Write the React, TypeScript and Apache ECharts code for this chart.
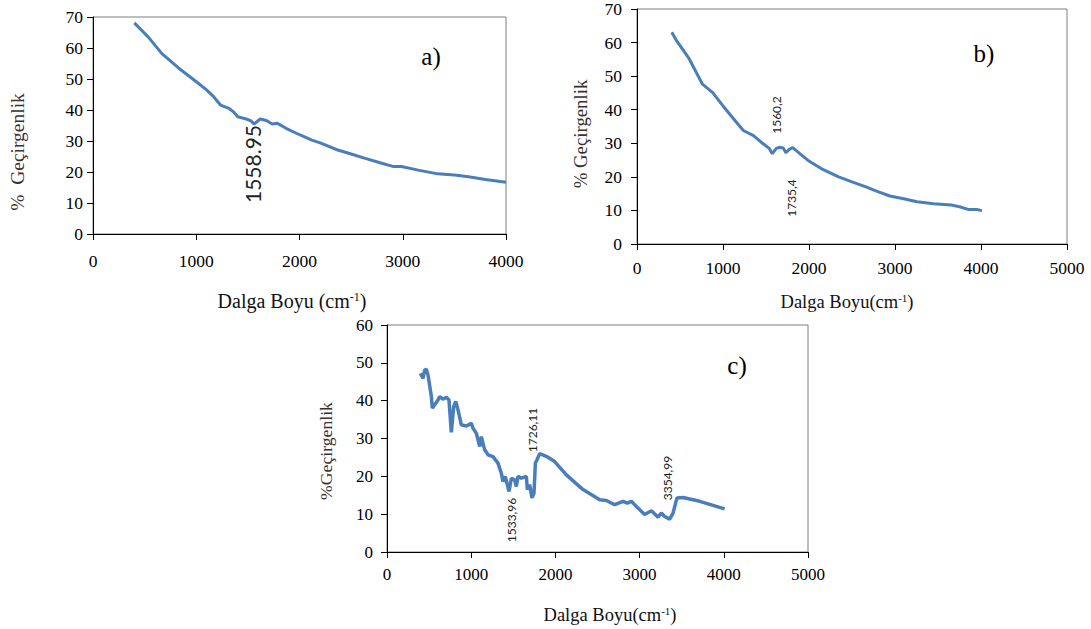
import React, { useEffect, useRef } from "react";
import * as echarts from "echarts";

// Panel a) spectrum
const xA = [400, 534, 667, 834, 1001, 1100, 1168, 1235, 1318, 1360, 1402, 1485, 1530, 1559, 1590, 1619, 1680, 1735, 1786, 1870, 1969, 2050, 2119, 2200, 2370, 2500, 2637, 2780, 2904, 2987, 3150, 3338, 3500, 3638, 3800, 4000];
const yA = [68.1, 63.6, 58.2, 53.4, 49.1, 46.5, 44.3, 41.6, 40.5, 39.4, 37.8, 37.1, 36.5, 35.5, 36.3, 37.1, 36.6, 35.5, 35.7, 34.1, 32.5, 31.3, 30.3, 29.4, 27.1, 25.8, 24.4, 23.0, 21.8, 21.8, 20.6, 19.4, 19.0, 18.5, 17.6, 16.7];

// Panel b) spectrum
const xB = [404, 464, 602, 761, 880, 998, 1120, 1236, 1355, 1460, 1540, 1573, 1620, 1652, 1700, 1731, 1770, 1811, 1900, 1989, 2147, 2345, 2500, 2662, 2800, 2940, 3100, 3257, 3450, 3653, 3750, 3851, 3950, 4010];
const yB = [63.1, 60.4, 55.4, 47.6, 45.1, 41.2, 37.4, 33.8, 32.3, 30.0, 28.4, 26.9, 28.5, 28.8, 28.6, 27.2, 28.2, 28.7, 26.8, 24.9, 22.4, 20.0, 18.5, 17.0, 15.6, 14.3, 13.5, 12.6, 12.0, 11.6, 11.1, 10.3, 10.3, 9.9];

// Panel c) spectrum
const xC = [396, 428, 447, 467, 487, 527, 538, 566, 606, 625, 665, 705, 736, 764, 792, 816, 843, 883, 942, 1002, 1021, 1061, 1101, 1120, 1160, 1200, 1259, 1318, 1358, 1378, 1405, 1449, 1477, 1516, 1536, 1556, 1595, 1655, 1667, 1694, 1722, 1746, 1762, 1782, 1813, 1892, 1991, 2130, 2328, 2526, 2605, 2704, 2803, 2854, 2902, 2981, 3060, 3140, 3219, 3258, 3298, 3357, 3397, 3444, 3516, 3714, 4010];
const yC = [47.2, 45.9, 48.1, 48.3, 46.8, 41.1, 38.0, 38.9, 40.2, 41.1, 40.4, 40.9, 40.2, 31.6, 38.4, 39.8, 37.6, 33.6, 33.3, 34.0, 32.7, 31.4, 27.9, 30.5, 27.0, 25.7, 25.2, 23.5, 20.8, 18.6, 20.0, 16.0, 19.5, 19.1, 17.3, 20.0, 19.5, 20.0, 16.5, 17.8, 14.3, 15.6, 23.5, 24.4, 26.0, 25.3, 23.9, 20.4, 16.5, 13.8, 13.6, 12.5, 13.4, 12.9, 13.4, 11.6, 9.9, 10.9, 9.2, 10.3, 9.4, 8.7, 10.3, 14.3, 14.4, 13.4, 11.4];

const panelLetters = ["a)", "b)", "c)"];
const peakLabelsA = ["1558.95"];
const peakLabelsB = ["1560,2", "1735,4"];
const peakLabelsC = ["1726,11", "1533,96", "3354,99"];
const yTitles = ["%  Geçirgenlik", "% Geçirgenlik", "%Geçirgenlik"];

const SERIF = "Liberation Serif";
const SANS = "Lato";
const LINE = "#4a7ebb";

function zip(xs: number[], ys: number[]) {
  return xs.map((x, i) => [x, ys[i]]);
}

function xAxis(gridIndex: number, max: number, margin: number, size: number) {
  return {
    gridIndex,
    type: "value",
    min: 0,
    max,
    interval: 1000,
    axisLine: { show: true, onZero: false, lineStyle: { color: "#000", width: 1 } },
    axisTick: { show: true, inside: false, length: 6, lineStyle: { color: "#000" } },
    axisLabel: { color: "#000", fontFamily: SERIF, fontSize: size, margin, formatter: (v: number) => String(v) },
    splitLine: { show: false },
  };
}

function yAxis(gridIndex: number, max: number, margin: number, size: number) {
  return {
    gridIndex,
    type: "value",
    min: 0,
    max,
    interval: 10,
    axisLine: { show: true, onZero: false, lineStyle: { color: "#000", width: 1 } },
    axisTick: { show: true, inside: false, length: 6, lineStyle: { color: "#000" } },
    axisLabel: { color: "#000", fontFamily: SERIF, fontSize: size, margin, formatter: (v: number) => String(v) },
    splitLine: { show: false },
  };
}

function xTitle(x: number, y: number, gap: string, size: number) {
  return {
    type: "text",
    x,
    y,
    style: {
      text: "{m|Dalga Boyu" + gap + "(cm}{sup|-1}{m|)}",
      rich: {
        m: { fontFamily: SERIF, fontSize: size, fill: "#111" },
        sup: { fontFamily: SERIF, fontSize: Math.round(size * 0.62), verticalAlign: "top", padding: [0, 0, 8, 0], fill: "#111" },
      },
      fill: "#111",
      fontFamily: SERIF,
      fontSize: size,
      align: "center",
      verticalAlign: "middle",
    },
  };
}

function vText(text: string, x: number, y: number, size: number, font: string, color = "#222") {
  return {
    type: "text",
    x,
    y,
    rotation: Math.PI / 2,
    style: { text, fill: color, fontFamily: font, fontSize: size, align: "center", verticalAlign: "middle" },
  };
}

function letter(text: string, x: number, y: number) {
  return {
    type: "text",
    x,
    y,
    style: { text, fill: "#000", fontFamily: SERIF, fontSize: 25, align: "center", verticalAlign: "middle" },
  };
}

export default function App() {
  const ref = useRef<HTMLDivElement>(null);
  useEffect(() => {
    if (!ref.current) return;
    const chart = echarts.init(ref.current, undefined, { renderer: "svg" });
    const gridBase = { show: true, borderColor: "#7f7f7f", borderWidth: 1, backgroundColor: "transparent", containLabel: false };
    chart.setOption({
      animation: false,
      backgroundColor: "#fff",
      textStyle: { fontFamily: SERIF },
      grid: [
        { ...gridBase, left: 93, top: 17, width: 413, height: 217 },
        { ...gridBase, left: 637, top: 7, width: 430, height: 237 },
        { ...gridBase, left: 387, top: 325, width: 421, height: 227 },
      ],
      xAxis: [xAxis(0, 4000, 18, 17.5), xAxis(1, 5000, 15, 17.5), xAxis(2, 5000, 14, 17)],
      yAxis: [yAxis(0, 70, 10, 17.5), yAxis(1, 70, 15, 17.5), yAxis(2, 60, 14, 17)],
      series: [
        { type: "line", xAxisIndex: 0, yAxisIndex: 0, data: zip(xA, yA), showSymbol: false, lineStyle: { color: LINE, width: 3 }, itemStyle: { color: LINE } },
        { type: "line", xAxisIndex: 1, yAxisIndex: 1, data: zip(xB, yB), showSymbol: false, lineStyle: { color: LINE, width: 3 }, itemStyle: { color: LINE } },
        { type: "line", xAxisIndex: 2, yAxisIndex: 2, data: zip(xC, yC), showSymbol: false, lineStyle: { color: LINE, width: 3.5 }, itemStyle: { color: LINE } },
      ],
      graphic: [
        xTitle(292, 301, " ", 20),
        xTitle(847, 302, "", 18.5),
        xTitle(610, 615, "", 18.5),
        vText(yTitles[0], 17, 152, 19.5, SERIF, "#3a3030"),
        vText(yTitles[1], 580, 134, 18.8, SERIF, "#3a3030"),
        vText(yTitles[2], 326, 451, 17.7, SERIF, "#3a3030"),
        letter(panelLetters[0], 431, 56),
        letter(panelLetters[1], 984, 53),
        letter(panelLetters[2], 737, 365),
        vText(peakLabelsA[0], 252, 164, 21, SANS),
        vText(peakLabelsB[0], 776, 115, 12, SANS),
        vText(peakLabelsB[1], 791, 198, 12, SANS),
        vText(peakLabelsC[0], 532, 430, 12, SANS),
        vText(peakLabelsC[1], 511, 520, 12, SANS),
        vText(peakLabelsC[2], 667, 478, 12, SANS),
      ],
    });
    return () => chart.dispose();
  }, []);
  return <div ref={ref} style={{ position: "fixed", left: 0, top: 0, width: 1091, height: 629 }} />;
}
